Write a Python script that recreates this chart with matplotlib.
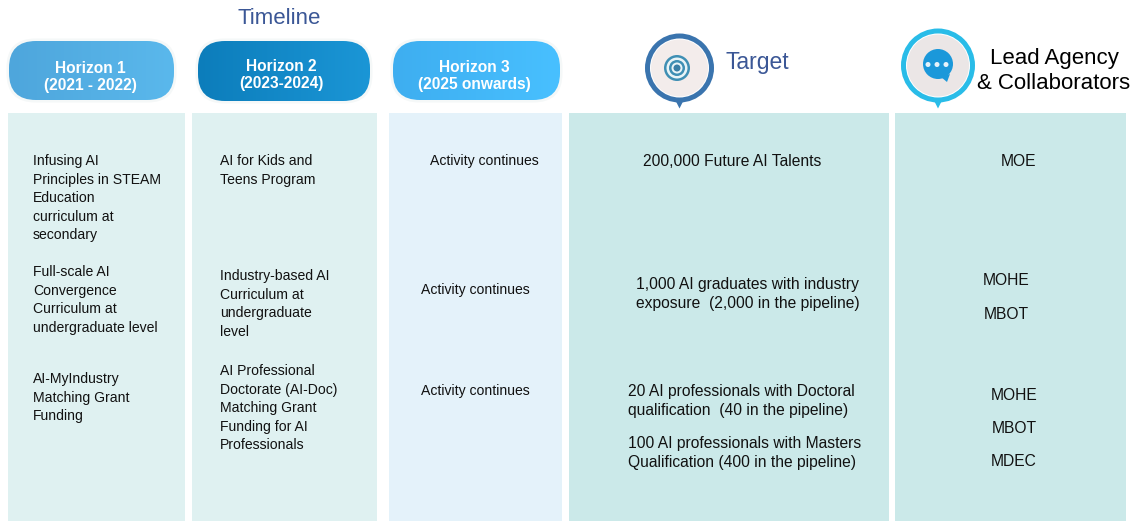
import numpy as np
import matplotlib
matplotlib.use("Agg")
import matplotlib.pyplot as plt
from matplotlib.colors import LinearSegmentedColormap
from matplotlib.patches import Circle, FancyBboxPatch, Polygon, Rectangle

plt.rcParams["font.family"] = ["Liberation Sans", "DejaVu Sans"]

# Conteudo
horizontes = ["Horizon 1\n(2021 - 2022)", "Horizon 2\n(2023-2024)", "Horizon 3\n(2025 onwards)"]
coluna_h1 = [
    "Infusing AI\nPrinciples in STEAM\nEducation\ncurriculum at\nsecondary",
    "Full-scale AI\nConvergence\nCurriculum at\nundergraduate level",
    "AI-MyIndustry\nMatching Grant\nFunding",
]
coluna_h2 = [
    "AI for Kids and\nTeens Program",
    "Industry-based AI\nCurriculum at\nundergraduate\nlevel",
    "AI Professional\nDoctorate (AI-Doc)\nMatching Grant\nFunding for AI\nProfessionals",
]
coluna_h3 = ["Activity continues", "Activity continues", "Activity continues"]
alvos = [
    "200,000 Future AI Talents",
    "1,000 AI graduates with industry\nexposure  (2,000 in the pipeline)",
    "20 AI professionals with Doctoral\nqualification  (40 in the pipeline)",
    "100 AI professionals with Masters\nQualification (400 in the pipeline)",
]
agencias = ["MOE", "MOHE", "MBOT", "MOHE", "MBOT", "MDEC"]

# Layout em pixels
W, H = 1136, 521
colunas = [(8, 185, "#dff1f1"), (192, 377, "#dff1f1"), (389, 562, "#e4f2fa"),
           (569, 889, "#cbe9e9"), (895, 1126, "#cbe9e9")]
pilulas = [(9, 41, 165, 59, "#4ea6dc", "#5ab8ec"), (198, 41, 172, 60, "#0c7dbb", "#1b96d6"),
           (393, 41, 167, 59, "#3eaef0", "#48c0ff")]
centro_pilula = [(90.5, 77), (281.5, 75), (474, 76)]
pos_h1 = [(33, 154), (33, 265), (33, 372)]
pos_h2 = [(220, 154), (220, 269), (220, 364)]
pos_h3 = [(430, 161), (421, 290), (421, 391)]
pos_alvos = [(643, 162), (636, 294), (628, 401), (628, 453)]
pos_agencias = [(1001, 162), (983, 280.5), (984, 314.5), (991, 395), (992, 428.5), (991, 462)]
TAM_CORPO = 10.1
TAM_ALVO = 11.25
TAM_TITULO = 16


def pilula(ax, x, y, w, h, cor_a, cor_b):
    # halo claro por baixo e gradiente horizontal recortado na forma
    halo = FancyBboxPatch((x - 2.5, y - 2.5), w + 5, h + 5, boxstyle="round,pad=0,rounding_size=29",
                          facecolor="#f5f8f8", edgecolor="none", zorder=1)
    ax.add_patch(halo)
    forma = FancyBboxPatch((x, y), w, h, boxstyle="round,pad=0,rounding_size=27",
                           facecolor="none", edgecolor="none", zorder=2)
    ax.add_patch(forma)
    cmap = LinearSegmentedColormap.from_list("g", [cor_a, cor_b])
    im = ax.imshow(np.linspace(0, 1, 200).reshape(1, -1), cmap=cmap, extent=(x, x + w, y + h, y),
                   aspect="auto", zorder=2)
    im.set_clip_path(forma)


def marcador(ax, cx, cy, raio, cor, fundo):
    ax.add_patch(Polygon([(cx - 4, cy + raio - 2), (cx + 4, cy + raio - 2), (cx, cy + raio + 6)],
                         facecolor=cor, edgecolor="none", zorder=2))
    ax.add_patch(Circle((cx, cy), raio, facecolor=cor, edgecolor="none", zorder=3))
    ax.add_patch(Circle((cx, cy), raio - 5, facecolor="white", edgecolor="none", zorder=3))
    ax.add_patch(Circle((cx, cy), raio - 6, facecolor=fundo, edgecolor="none", zorder=3))


fig = plt.figure(figsize=(W / 100, H / 100), dpi=100)
ax = fig.add_axes([0, 0, 1, 1])
ax.set_xlim(0, W)
ax.set_ylim(H, 0)
ax.axis("off")

for x0, x1, cor in colunas:
    ax.add_patch(Rectangle((x0, 113), x1 - x0, H - 113, facecolor=cor, edgecolor="none", zorder=1))

for (x, y, w, h, a, b), rotulo, (xc, yc) in zip(pilulas, horizontes, centro_pilula):
    pilula(ax, x, y, w, h, a, b)
    ax.text(xc, yc, rotulo, color="white", fontsize=11.2, fontweight="bold",
            ha="center", va="center", linespacing=1.22, zorder=4)
ax.set_xlim(0, W)
ax.set_ylim(H, 0)

ax.text(279, 18, "Timeline", color="#3b5796", fontsize=TAM_TITULO, ha="center", va="center")
ax.text(725, 63, "Target", color="#3b5796", fontsize=16.5, ha="left", va="center")
ax.text(1054, 71, "Lead Agency\n& Collaborators", color="black", fontsize=TAM_TITULO, ha="center", va="center",
        linespacing=1.28)

# icone do alvo
marcador(ax, 679.5, 68, 34.5, "#3a74ae", "#f3eceb")
for r, c in [(13, "#3f8fb4"), (10.5, "#e9f4f7"), (8, "#3f8fb4"), (5.5, "#e9f4f7"), (3.5, "#3a7fa6")]:
    ax.add_patch(Circle((677, 68), r, facecolor=c, edgecolor="none", zorder=4))

# icone do balao
marcador(ax, 938, 65.5, 37, "#29bce8", "#ebe6e6")
ax.add_patch(Circle((938, 64), 15, facecolor="#1b98da", edgecolor="none", zorder=4))
ax.add_patch(Polygon([(941, 77), (950, 74), (947, 82)], facecolor="#1b98da", edgecolor="none", zorder=4))
for dx in [-9, 0, 9]:
    ax.add_patch(Circle((937 + dx, 64.5), 2.5, facecolor="#e6f3fb", edgecolor="none", zorder=5))

# textos das colunas
for linhas, posicoes in [(coluna_h1, pos_h1), (coluna_h2, pos_h2)]:
    for txt, (x, y) in zip(linhas, posicoes):
        ax.text(x, y, txt, fontsize=TAM_CORPO, color="#111111", ha="left", va="top", linespacing=1.42, zorder=5)
for txt, (x, y) in zip(coluna_h3, pos_h3):
    ax.text(x, y, txt, fontsize=TAM_CORPO, color="#111111", ha="left", va="center", zorder=5)
for txt, (x, y) in zip(alvos, pos_alvos):
    ax.text(x, y, txt, fontsize=TAM_ALVO, color="#111111", ha="left", va="center", linespacing=1.4, zorder=5)
for txt, (x, y) in zip(agencias, pos_agencias):
    ax.text(x, y, txt, fontsize=TAM_ALVO, color="#111111", ha="left", va="center", zorder=5)

fig.savefig("out.png", dpi=100)
